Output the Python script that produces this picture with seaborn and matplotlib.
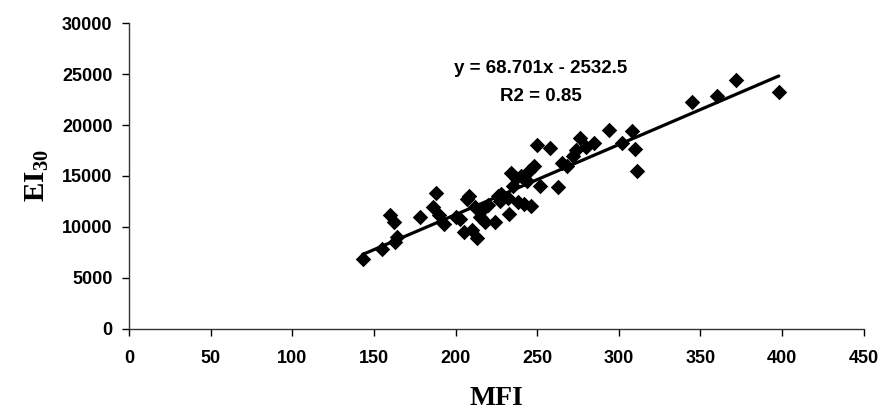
import matplotlib
matplotlib.use("Agg")
import matplotlib.pyplot as plt
import numpy as np
import pandas as pd
import seaborn as sns

# Số liệu
mfi = [143, 155, 160, 162, 163, 164, 178, 186, 188, 190, 193, 200, 203, 205,
       207, 208, 210, 212, 213, 215, 216, 218, 220, 224, 226, 227, 228, 232,
       233, 234, 235, 237, 238, 240, 242, 244, 245, 246, 248, 250, 252, 258,
       263, 265, 268, 272, 274, 276, 280, 285, 294, 302, 308, 310, 311, 345,
       360, 372, 398]
ei30 = [6900, 7800, 11200, 10500, 8500, 9000, 11000, 12000, 13300, 11200,
        10300, 11000, 10800, 9500, 12700, 13000, 9700, 12000, 8900, 11000,
        11700, 10500, 12200, 10500, 13000, 12500, 13200, 12800, 11300, 15300,
        14000, 14800, 12400, 15000, 12300, 14500, 15500, 12100, 16000, 18000,
        14000, 17700, 13900, 16300, 16000, 17000, 17500, 18700, 17800, 18200,
        19500, 18200, 19400, 17600, 15500, 22300, 22800, 24400, 23200]

slope = 68.701
intercept = -2532.5
r2 = 0.85

df = pd.DataFrame({"MFI": mfi, "EI30": ei30})

sns.set_style("ticks")
plt.rcParams["font.family"] = ["Liberation Sans", "DejaVu Sans"]
plt.rcParams["mathtext.fontset"] = "custom"
plt.rcParams["mathtext.rm"] = "Liberation Serif:bold"
plt.rcParams["mathtext.default"] = "rm"
for k in ["text.color", "axes.labelcolor", "xtick.color", "ytick.color"]:
    plt.rcParams[k] = "black"

fig = plt.figure(figsize=(8.84, 4.19), dpi=100)
ax = fig.add_axes([0.146, 0.215, 0.831, 0.73])

sns.scatterplot(data=df, x="MFI", y="EI30", marker="D", s=62,
                color="black", edgecolor="black", linewidth=0, ax=ax, zorder=3)

# Đường xu hướng theo phương trình hồi quy
xs = np.array([min(mfi), max(mfi)])
line = pd.DataFrame({"MFI": xs, "EI30": slope * xs + intercept})
sns.lineplot(data=line, x="MFI", y="EI30", color="black", linewidth=2.3, ax=ax)

ax.text(252, 25500, "y = 68.701x - 2532.5", ha="center", va="center",
        fontsize=13.5, fontweight="bold")
ax.text(252, 22800, f"R2 = {r2}", ha="center", va="center",
        fontsize=13.5, fontweight="bold")

ax.set_xlim(0, 450)
ax.set_ylim(0, 30000)
ax.set_xticks(range(0, 451, 50))
ax.set_yticks(range(0, 30001, 5000))
for lab in ax.get_xticklabels() + ax.get_yticklabels():
    lab.set_fontweight("bold")
ax.tick_params(labelsize=13, length=5, width=1, color="black", pad=7)
ax.tick_params(axis="x", pad=10)

ax.set_xlabel("MFI", family="Liberation Serif", fontweight="bold",
              fontsize=20, labelpad=14)
ax.set_ylabel(r"$\mathrm{EI}_{30}$", fontsize=21, labelpad=8)

sns.despine(ax=ax)
for sp in ax.spines.values():
    sp.set_linewidth(1)
    sp.set_color("#333333")

fig.savefig("out.png", dpi=100)
